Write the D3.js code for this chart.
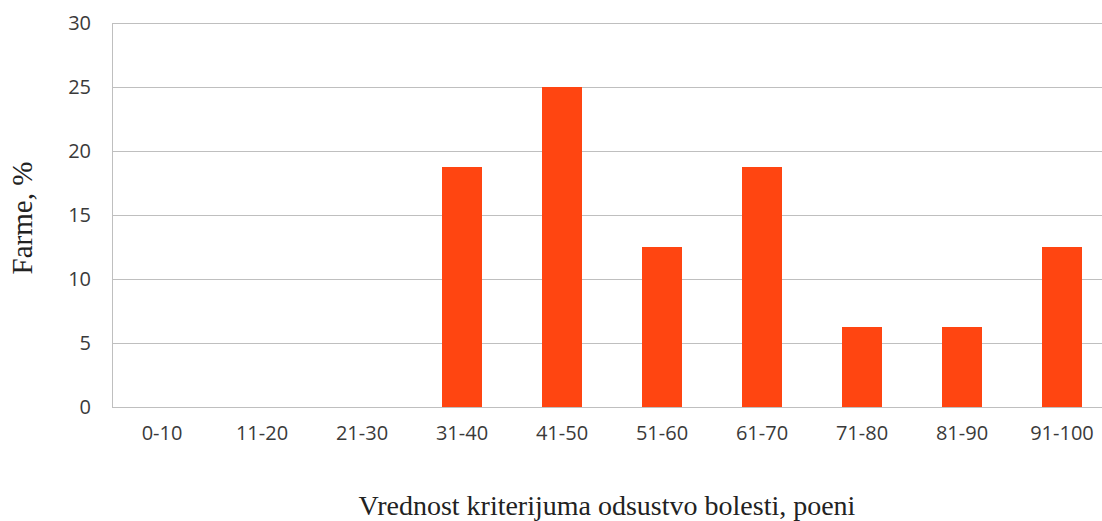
<!DOCTYPE html>
<meta charset="utf-8">
<style>
body { margin: 0; background: #fff; }
.tick text { font-family: "Open Sans", sans-serif; fill: #3a3a3a; }
.grid line { stroke: #bfbfbf; }
</style>
<svg width="1102" height="521"></svg>
<script src="https://d3js.org/d3.v7.min.js"></script>
<script>
var categories = ["0-10", "11-20", "21-30", "31-40", "41-50", "51-60", "61-70", "71-80", "81-90", "91-100"];
var farmShare = [0, 0, 0, 18.75, 25, 12.5, 18.75, 6.25, 6.25, 12.5];
var yTicks = [0, 5, 10, 15, 20, 25, 30];

var svg = d3.select("svg"),
    margin = {top: 23, left: 112},
    plotRight = 1112,
    plotBottom = 407;

var x = d3.scaleBand().domain(categories).range([margin.left, plotRight])
    .paddingInner(0.6).paddingOuter(0.3);
var y = d3.scaleLinear().domain([0, 30]).range([plotBottom, margin.top]);

// gridlines
svg.append("g")
    .attr("class", "grid")
    .selectAll("line")
    .data(yTicks)
  .enter().append("line")
    .attr("x1", margin.left)
    .attr("x2", plotRight)
    .attr("y1", function(d) { return Math.round(y(d)) + 0.5; })
    .attr("y2", function(d) { return Math.round(y(d)) + 0.5; });

svg.append("line")
    .attr("x1", margin.left + 0.5).attr("x2", margin.left + 0.5)
    .attr("y1", margin.top).attr("y2", plotBottom)
    .attr("stroke", "#bfbfbf");

svg.selectAll(".bar")
    .data(farmShare)
  .enter().append("rect")
    .attr("class", "bar")
    .attr("x", function(d, i) { return x(categories[i]); })
    .attr("width", x.bandwidth())
    .attr("y", function(d) { return y(d); })
    .attr("height", function(d) { return y(0) - y(d); })
    .attr("fill", "#ff4511");

var yAxis = svg.append("g")
    .attr("transform", "translate(" + margin.left + ",0)")
    .call(d3.axisLeft(y).tickValues(yTicks).tickSize(0).tickPadding(21));
yAxis.select(".domain").remove();
yAxis.selectAll("text").style("font-size", "20px");

var xAxis = svg.append("g")
    .attr("transform", "translate(0," + plotBottom + ")")
    .call(d3.axisBottom(x).tickSize(0).tickPadding(19));
xAxis.select(".domain").remove();
xAxis.selectAll("text").style("font-size", "20px");

svg.append("text")
    .attr("transform", "translate(32,218) rotate(-90)")
    .attr("text-anchor", "middle")
    .style("font", "29px 'Liberation Serif', serif")
    .attr("fill", "#222")
    .text("Farme, %");

svg.append("text")
    .attr("x", 607)
    .attr("y", 515)
    .attr("text-anchor", "middle")
    .style("font", "28px 'Liberation Serif', serif")
    .attr("fill", "#222")
    .text("Vrednost kriterijuma odsustvo bolesti, poeni");
</script>
